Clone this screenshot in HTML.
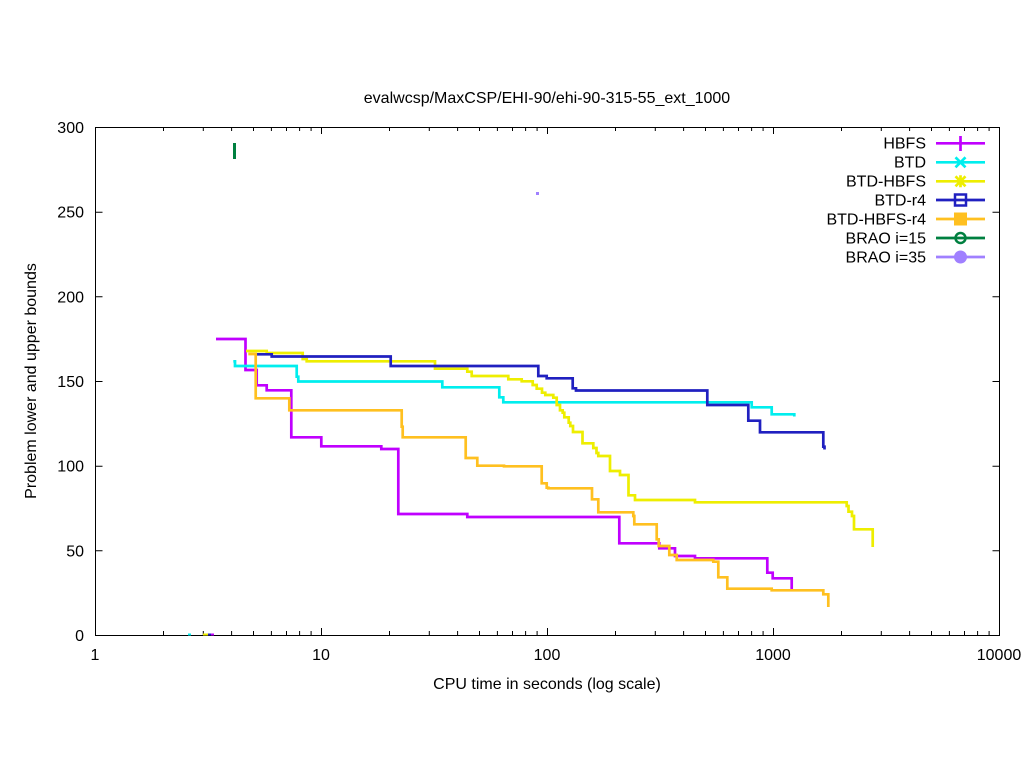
<!DOCTYPE html>
<html><head><meta charset="utf-8"><style>
html,body{margin:0;padding:0;background:#fff;}
svg{display:block;font-family:"Liberation Sans",Arial,sans-serif;}
</style></head><body>
<svg width="1024" height="768" viewBox="0 0 1024 768" xmlns="http://www.w3.org/2000/svg">
<rect width="1024" height="768" fill="#fff"/>
<text x="547" y="103" font-size="16" text-anchor="middle" fill="#000">evalwcsp/MaxCSP/EHI-90/ehi-90-315-55_ext_1000</text>
<g stroke="#000" stroke-width="1" fill="none">
<rect x="95.5" y="127.5" width="904" height="508"/>
<path d="M95.5 635.5h7M999.5 635.5h-7M95.5 550.8h7M999.5 550.8h-7M95.5 466.2h7M999.5 466.2h-7M95.5 381.5h7M999.5 381.5h-7M95.5 296.8h7M999.5 296.8h-7M95.5 212.2h7M999.5 212.2h-7"/>
<path d="M95.5 635v-7M95.5 127v7M321.5 635v-7M321.5 127v7M547.5 635v-7M547.5 127v7M773.5 635v-7M773.5 127v7M999.5 635v-7M999.5 127v7"/>
<path d="M163.5 635v-4M163.5 127v4M203.3 635v-4M203.3 127v4M231.6 635v-4M231.6 127v4M253.5 635v-4M253.5 127v4M271.4 635v-4M271.4 127v4M286.5 635v-4M286.5 127v4M299.6 635v-4M299.6 127v4M311.1 635v-4M311.1 127v4
M389.5 635v-4M389.5 127v4M429.3 635v-4M429.3 127v4M457.6 635v-4M457.6 127v4M479.5 635v-4M479.5 127v4M497.4 635v-4M497.4 127v4M512.5 635v-4M512.5 127v4M525.6 635v-4M525.6 127v4M537.1 635v-4M537.1 127v4
M615.5 635v-4M615.5 127v4M655.3 635v-4M655.3 127v4M683.6 635v-4M683.6 127v4M705.5 635v-4M705.5 127v4M723.4 635v-4M723.4 127v4M738.5 635v-4M738.5 127v4M751.6 635v-4M751.6 127v4M763.1 635v-4M763.1 127v4
M841.5 635v-4M841.5 127v4M881.3 635v-4M881.3 127v4M909.6 635v-4M909.6 127v4M931.5 635v-4M931.5 127v4M949.4 635v-4M949.4 127v4M964.5 635v-4M964.5 127v4M977.6 635v-4M977.6 127v4M989.1 635v-4M989.1 127v4"/>
</g>
<g font-size="16" fill="#000" text-anchor="end">
<text x="84" y="641">0</text>
<text x="84" y="556.3">50</text>
<text x="84" y="471.7">100</text>
<text x="84" y="387">150</text>
<text x="84" y="302.3">200</text>
<text x="84" y="217.7">250</text>
<text x="84" y="133">300</text>
</g>
<g font-size="16" fill="#000" text-anchor="middle">
<text x="95" y="660">1</text>
<text x="321" y="660">10</text>
<text x="547" y="660">100</text>
<text x="773" y="660">1000</text>
<text x="999" y="660">10000</text>
<text x="547" y="689">CPU time in seconds (log scale)</text>
<text transform="translate(36,381) rotate(-90)" x="0" y="0">Problem lower and upper bounds</text>
</g>
<g fill="none" stroke-width="2.7" stroke-linejoin="miter" stroke-linecap="butt">
<polyline stroke="#c000ff" points="216,339 245.5,339 245.5,370 256.7,370 256.7,385.3 266.7,385.3 266.7,390.3 291.3,390.3 291.3,437.3 321.3,437.3 321.3,446.3 381.3,446.3 381.3,449 398.3,449 398.3,514 467.3,514 467.3,517 619.3,517 619.3,543.3 659.3,543.3 659.3,548.3 675,548.3 675,556 695,556 695,558.3 767.3,558.3 767.3,572.7 772.7,572.7 772.7,578.3 791.7,578.3 791.7,589"/>
<polyline stroke="#00eeee" points="233.3,361.3 235,361.3 235,366 296.7,366 296.7,376.7 298.3,376.7 298.3,381.5 442.3,381.5 442.3,387.3 499.3,387.3 499.3,397.3 503.3,397.3 503.3,402.3 751.7,402.3 751.7,407.3 771.7,407.3 771.7,414.3 794.3,414.3 794.3,416.5"/>
<polyline stroke="#eeee00" points="246,351 266.7,351 266.7,353 302.7,353 302.7,359 306.7,359 306.7,361.3 435,361.3 435,368.7 467.3,368.7 467.3,371.7 471.7,371.7 471.7,376 508.3,376 508.3,379.3 521.7,379.3 521.7,381.3 532.7,381.3 532.7,385 536.7,385 536.7,388.7 542,388.7 542,392.7 545.3,392.7 545.3,395 553.3,395 553.3,397.7 556.7,397.7 556.7,405 560,405 560,410.3 562.7,410.3 562.7,412.7 564.3,412.7 564.3,417.3 568.7,417.3 568.7,422.7 570.3,422.7 570.3,426 573,426 573,432 582.5,432 582.5,443.3 593.3,443.3 593.3,448 596.5,448 596.5,453 598.3,453 598.3,456 610,456 610,471 620,471 620,475 628.5,475 628.5,495.3 635,495.3 635,500 695,500 695,502.3 846.7,502.3 846.7,506 848.5,506 848.5,511.7 852,511.7 852,516 854,516 854,529.3 872.7,529.3 872.7,547"/>
<polyline stroke="#2020c0" points="256.7,354.3 271.7,354.3 271.7,356.5 390.7,356.5 390.7,366 538.3,366 538.3,376 546.7,376 546.7,378.3 572.7,378.3 572.7,388.3 576,388.3 576,390.5 707.3,390.5 707.3,405 748.3,405 748.3,420.7 760,420.7 760,432.3 823.3,432.3 823.3,446.7 824.5,446.7 824.5,449.5"/>
<polyline stroke="#ffc020" points="248.3,354 255.7,354 255.7,398.3 289.3,398.3 289.3,410.3 401.7,410.3 401.7,426.7 402.7,426.7 402.7,437.3 465.7,437.3 465.7,458 477.3,458 477.3,465.7 504,465.7 504,466.3 541.7,466.3 541.7,483.3 546.7,483.3 546.7,487.7 548.3,487.7 548.3,488.3 592,488.3 592,499.3 598.3,499.3 598.3,512.3 633.3,512.3 633.3,516 634.3,516 634.3,524.3 656.7,524.3 656.7,539.3 658.7,539.3 658.7,546 669.3,546 669.3,555 676.7,555 676.7,560 713.3,560 713.3,561.7 718.3,561.7 718.3,577.3 727.3,577.3 727.3,588.7 771.7,588.7 771.7,590.3 823.3,590.3 823.3,594.3 828.3,594.3 828.3,607"/>
</g>
<rect x="233" y="143" width="3" height="16" fill="#008040"/>
<rect x="536" y="192" width="3" height="3" fill="#a080ff"/>
<rect x="188" y="633.5" width="3" height="2" fill="#00eeee"/>
<rect x="203" y="633.5" width="5" height="2" fill="#eeee00"/>
<rect x="208" y="633.5" width="3" height="2" fill="#2020c0"/>
<rect x="211" y="633.5" width="3" height="2" fill="#c000ff"/>
<g font-size="16" fill="#000" text-anchor="end">
<text x="926" y="148.5">HBFS</text>
<text x="926" y="167.5">BTD</text>
<text x="926" y="186.5">BTD-HBFS</text>
<text x="926" y="205.5">BTD-r4</text>
<text x="926" y="224.5">BTD-HBFS-r4</text>
<text x="926" y="243.5">BRAO i=15</text>
<text x="926" y="262.5">BRAO i=35</text>
</g>
<g stroke-width="2.7" fill="none">
<path d="M936 143.3h49M960.5 136v15" stroke="#c000ff"/>
<path d="M936 162.3h49M955.5 157.3l10 10M965.5 157.3l-10 10" stroke="#00eeee"/>
<path d="M936 181.3h49M955.5 176.3l10 10M965.5 176.3l-10 10M960.5 175.3v12" stroke="#eeee00"/>
<path d="M936 200h49" stroke="#2020c0"/>
<rect x="955" y="194.5" width="11" height="11" stroke="#2020c0" stroke-width="2.5"/>
<path d="M936 219h49" stroke="#ffc020"/>
<rect x="954" y="212.5" width="13" height="13" fill="#ffc020"/>
<path d="M936 238h49" stroke="#008040"/>
<circle cx="960.5" cy="238" r="5" stroke="#008040" stroke-width="2.5"/>
<path d="M936 257h49" stroke="#a080ff"/>
<circle cx="960.5" cy="257" r="6.5" fill="#a080ff"/>
</g>
</svg>
</body></html>
